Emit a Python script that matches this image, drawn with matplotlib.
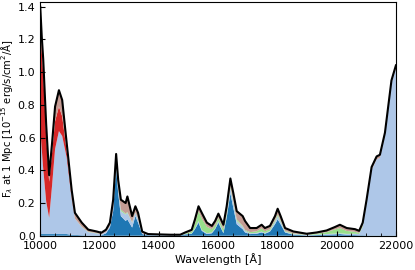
import matplotlib
matplotlib.use("Agg")
import matplotlib.pyplot as plt
import numpy as np
from matplotlib.ticker import MultipleLocator

# wavelength grid [Angstrom] and per-species flux contributions
wavelength = [10000, 10050, 10100, 10200, 10300, 10400, 10500, 10630, 10740, 10890,
              11060, 11170, 11400, 11620, 11900, 12060, 12220, 12350, 12460, 12560,
              12630, 12720, 12880, 12940, 13100, 13210, 13300, 13440, 13640, 14000,
              14400, 14720, 14890, 15110, 15220, 15340, 15450, 15620, 15790, 15900,
              16010, 16180, 16290, 16415, 16515, 16630, 16830, 16910, 17080, 17300,
              17470, 17580, 17750, 17920, 18010, 18110, 18260, 18540, 18990, 19330,
              19660, 19940, 20110, 20340, 20620, 20760, 20880, 21010, 21180, 21350,
              21460, 21630, 21850, 22000]

dark_blue = [0.010, 0.010, 0.010, 0.010, 0.010, 0.010, 0.010, 0.010, 0.010, 0.010,
             0.005, 0.005, 0.003, 0.002, 0.002, 0.002, 0.015, 0.050, 0.150, 0.410,
             0.260, 0.120, 0.090, 0.100, 0.050, 0.120, 0.080, 0.010, 0.003, 0.002,
             0.002, 0.002, 0.008, 0.012, 0.040, 0.080, 0.030, 0.010, 0.015, 0.040,
             0.080, 0.015, 0.110, 0.260, 0.170, 0.070, 0.040, 0.020, 0.010, 0.012,
             0.020, 0.012, 0.025, 0.070, 0.100, 0.070, 0.020, 0.006, 0.002, 0.004,
             0.006, 0.008, 0.010, 0.006, 0.004, 0.003, 0.003, 0.002, 0.002, 0.002,
             0.002, 0.002, 0.002, 0.002]

light_blue = [0.650, 0.520, 0.400, 0.200, 0.100, 0.300, 0.520, 0.630, 0.600, 0.470,
              0.220, 0.100, 0.050, 0.020, 0.012, 0.008, 0.008, 0.010, 0.020, 0.030,
              0.030, 0.030, 0.040, 0.040, 0.030, 0.020, 0.020, 0.005, 0.002, 0.002,
              0.001, 0.001, 0.002, 0.003, 0.005, 0.010, 0.005, 0.005, 0.005, 0.005,
              0.010, 0.005, 0.015, 0.030, 0.030, 0.020, 0.015, 0.010, 0.005, 0.005,
              0.005, 0.005, 0.005, 0.015, 0.020, 0.015, 0.005, 0.004, 0.003, 0.003,
              0.004, 0.005, 0.005, 0.005, 0.008, 0.008, 0.050, 0.200, 0.400, 0.465,
              0.475, 0.610, 0.930, 1.020]

green = [0.000, 0.000, 0.000, 0.000, 0.000, 0.000, 0.000, 0.000, 0.000, 0.000,
         0.000, 0.000, 0.002, 0.002, 0.002, 0.000, 0.000, 0.000, 0.000, 0.005,
         0.005, 0.010, 0.005, 0.005, 0.003, 0.003, 0.003, 0.000, 0.000, 0.000,
         0.000, 0.001, 0.004, 0.010, 0.030, 0.060, 0.070, 0.040, 0.020, 0.020,
         0.020, 0.020, 0.015, 0.010, 0.010, 0.010, 0.005, 0.005, 0.007, 0.010,
         0.020, 0.010, 0.010, 0.010, 0.010, 0.008, 0.005, 0.004, 0.002, 0.006,
         0.012, 0.025, 0.032, 0.018, 0.012, 0.006, 0.008, 0.002, 0.000, 0.000,
         0.000, 0.000, 0.000, 0.000]

red = [0.640, 0.600, 0.580, 0.400, 0.220, 0.200, 0.170, 0.150, 0.120, 0.040,
       0.010, 0.000, 0.000, 0.000, 0.000, 0.000, 0.000, 0.000, 0.000, 0.000,
       0.000, 0.000, 0.000, 0.000, 0.000, 0.000, 0.000, 0.000, 0.000, 0.000,
       0.000, 0.000, 0.000, 0.000, 0.000, 0.000, 0.000, 0.000, 0.000, 0.000,
       0.000, 0.000, 0.000, 0.000, 0.000, 0.000, 0.000, 0.000, 0.000, 0.000,
       0.000, 0.000, 0.000, 0.000, 0.000, 0.000, 0.000, 0.000, 0.000, 0.000,
       0.000, 0.000, 0.000, 0.000, 0.000, 0.000, 0.000, 0.000, 0.000, 0.000,
       0.000, 0.000, 0.000, 0.000]

brown = [0.100, 0.090, 0.090, 0.070, 0.040, 0.060, 0.090, 0.100, 0.100, 0.050,
         0.045, 0.035, 0.025, 0.013, 0.010, 0.008, 0.014, 0.020, 0.050, 0.055,
         0.045, 0.060, 0.065, 0.095, 0.037, 0.037, 0.037, 0.010, 0.005, 0.004,
         0.003, 0.002, 0.006, 0.011, 0.025, 0.030, 0.035, 0.025, 0.020, 0.025,
         0.025, 0.027, 0.040, 0.050, 0.050, 0.050, 0.060, 0.055, 0.025, 0.020,
         0.022, 0.020, 0.020, 0.025, 0.035, 0.027, 0.017, 0.012, 0.005, 0.007,
         0.010, 0.015, 0.020, 0.018, 0.016, 0.013, 0.019, 0.016, 0.018, 0.018,
         0.018, 0.018, 0.018, 0.020]

layers = [dark_blue, light_blue, green, red, brown]
colors = ["#1f77b4", "#aec7e8", "#98df8a", "#d62728", "#c49c94"]

total = np.sum(np.array(layers), axis=0)

fig = plt.figure(figsize=(4.15, 2.70), dpi=100)
ax = fig.add_axes([0.097, 0.127, 0.857, 0.866])

ax.stackplot(wavelength, *layers, colors=colors, linewidth=0)
ax.plot(wavelength, total, color="black", lw=1.5)

ax.set_xlim(10000, 22000)
ax.set_ylim(0, 1.43)
ax.xaxis.set_major_locator(MultipleLocator(2000))
ax.xaxis.set_minor_locator(MultipleLocator(500))
ax.yaxis.set_major_locator(MultipleLocator(0.2))
ax.tick_params(which="both", direction="in", labelsize=8)
ax.tick_params(which="major", length=3.5)
ax.tick_params(which="minor", length=2)

ax.set_xlabel("Wavelength [Å]", fontsize=8, labelpad=2)
ax.set_ylabel(r"F$_\lambda$ at 1 Mpc [10$^{-15}$ erg/s/cm$^2$/Å]", fontsize=7.2)
ax.yaxis.set_label_coords(-0.07, 0.5)

fig.savefig("out.png", dpi=100)
